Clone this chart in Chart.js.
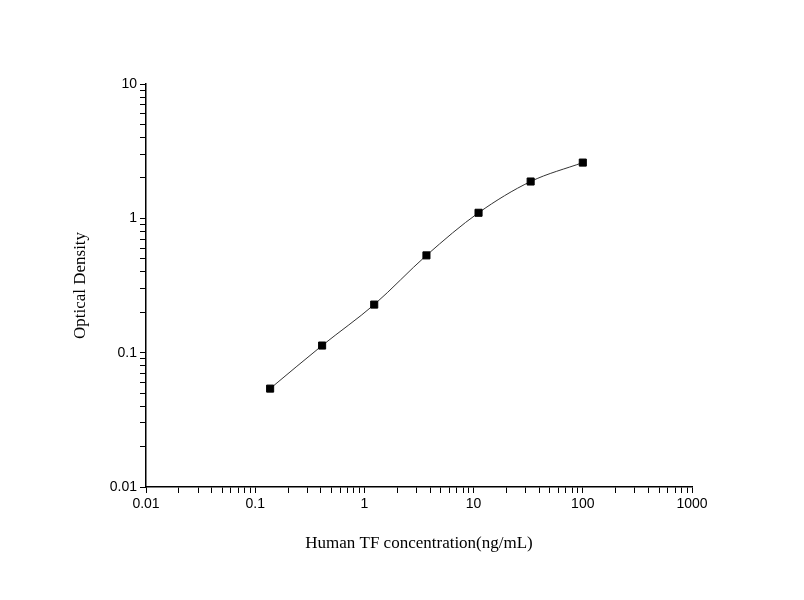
<!DOCTYPE html>
<html><head><script src="https://cdn.jsdelivr.net/npm/chart.js@4"></script>
<style>body{margin:0;background:#fff}#w{width:804px;height:600px}</style></head>
<body><div id="w"><canvas id="c"></canvas></div>
<script>
const concentrations = [0.137, 0.41, 1.23, 3.7, 11.1, 33.3, 100];
const opticalDensity = [0.054, 0.113, 0.228, 0.53, 1.1, 1.88, 2.6];
const xMajorTicks = [0.01, 0.1, 1, 10, 100, 1000];
const yMajorTicks = [0.01, 0.1, 1, 10];
const isMajor = (v, list) => list.some(m => Math.abs(v / m - 1) < 1e-6);
const pts = concentrations.map((x, i) => ({x, y: opticalDensity[i]}));
new Chart(document.getElementById('c'), {
  type: 'line',
  data: {datasets: [{data: pts, borderColor: '#333', borderWidth: 1, backgroundColor: '#000',
    pointStyle: 'rect', pointRadius: 5, pointBorderColor: '#000', cubicInterpolationMode: 'monotone'}]},
  options: {
    responsive: true, maintainAspectRatio: false, animation: false,
    layout: {padding: {top: 84, right: 112, left: 0, bottom: 0}},
    plugins: {legend: {display: false}, tooltip: {enabled: false}},
    scales: {
      x: {type: 'logarithmic', min: 0.01, max: 1000,
        afterFit: s => { s.height = 113; },
        border: {color: '#000', width: 1.5},
        grid: {drawOnChartArea: false, tickLength: 6, color: '#000'},
        afterBuildTicks: s => { const t = []; for (let e = -2; e < 3; e++) for (let k = 1; k < 10; k++) t.push({value: k * Math.pow(10, e)}); t.push({value: 1000}); s.ticks = t; },
        ticks: {autoSkip: false, maxRotation: 0, color: '#000', font: {family: 'Liberation Sans', size: 14},
          callback: v => isMajor(v, xMajorTicks) ? String(v) : ''},
        title: {display: true, text: 'Human TF concentration(ng/mL)', color: '#000',
          font: {family: 'Liberation Serif', size: 17}, padding: {top: 0, bottom: 46}}
      },
      y: {type: 'logarithmic', min: 0.01, max: 10,
        afterFit: s => { s.width = 146; },
        border: {color: '#000', width: 1.5},
        grid: {drawOnChartArea: false, tickLength: 6, color: '#000'},
        afterBuildTicks: s => { const t = []; for (let e = -2; e < 1; e++) for (let k = 1; k < 10; k++) t.push({value: k * Math.pow(10, e)}); t.push({value: 10}); s.ticks = t; },
        ticks: {autoSkip: false, color: '#000', font: {family: 'Liberation Sans', size: 14},
          callback: v => isMajor(v, yMajorTicks) ? String(v) : ''},
        title: {display: true, text: 'Optical Density', color: '#000',
          font: {family: 'Liberation Serif', size: 17}, padding: {top: 70, bottom: 0}}
      }
    }
  }
});
</script></body></html>
